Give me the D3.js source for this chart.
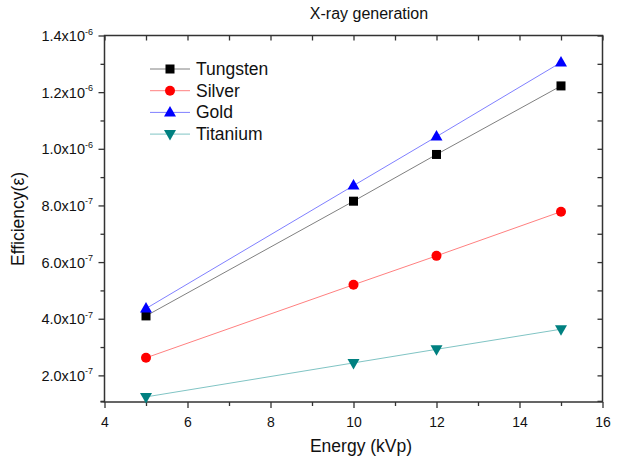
<!DOCTYPE html>
<html><head><meta charset="utf-8">
<script src="https://cdn.jsdelivr.net/npm/d3@7"></script>
<style>body{margin:0;background:#fff;} svg{display:block;} text{font-family:"Liberation Sans",Arial,sans-serif;}</style>
</head><body>
<svg id="c" width="621" height="462"></svg>
<script>
const energy = [5, 10, 12, 15];
const tungsten = [4.1e-7, 8.15e-7, 9.8e-7, 1.222e-6];
const silver = [2.62e-7, 5.2e-7, 6.22e-7, 7.78e-7];
const gold = [4.36e-7, 8.7e-7, 1.043e-6, 1.305e-6];
const titanium = [1.24e-7, 2.44e-7, 2.92e-7, 3.63e-7];
const seriesNames = ["Tungsten", "Silver", "Gold", "Titanium"];
const xTicks = [4, 6, 8, 10, 12, 14, 16];
const yTickMant = ["2.0", "4.0", "6.0", "8.0", "1.0", "1.2", "1.4"];
const yTickExp = ["-7", "-7", "-7", "-7", "-6", "-6", "-6"];
const yTicks = [2e-7, 4e-7, 6e-7, 8e-7, 1.0e-6, 1.2e-6, 1.4e-6];

const styles = [
  {line:"#808080", fill:"#000000", shape:"square"},
  {line:"#ff8080", fill:"#ff0000", shape:"circle"},
  {line:"#8080ff", fill:"#0000ff", shape:"up"},
  {line:"#80c4c4", fill:"#008080", shape:"down"}
];
const allSeries = [tungsten, silver, gold, titanium];

const svg = d3.select("#c");
const L = 104.5, R = 602.5, T = 35.5, B = 402;
const x = d3.scaleLinear().domain([4, 16]).range([L, R]);
const y = d3.scaleLinear().domain([1.06e-7, 1.4e-6]).range([B, T]);

svg.append("rect").attr("x", L).attr("y", T).attr("width", R - L).attr("height", B - T)
  .attr("fill", "none").attr("stroke", "#333").attr("stroke-width", 1.5);

const xMinor = d3.range(5, 16, 2);
const yMinor = [1.1e-7, 3e-7, 5e-7, 7e-7, 9e-7, 1.1e-6, 1.3e-6];
const style = g => { g.select(".domain").remove(); g.selectAll("line").attr("stroke", "#333").attr("stroke-width", 1.3); };

const gx = svg.append("g").attr("transform", `translate(0,${B})`)
  .call(d3.axisBottom(x).tickValues(xTicks).tickSize(6).tickSizeOuter(0).tickFormat(d3.format("d")))
  .call(style);
gx.selectAll("text").attr("font-size", 14).attr("fill", "#111").attr("dy", "1.15em");
svg.append("g").attr("transform", `translate(0,${B})`)
  .call(d3.axisBottom(x).tickValues(xMinor).tickSize(4).tickFormat("")).call(style);
svg.append("g").attr("transform", `translate(0,${T})`)
  .call(d3.axisBottom(x).tickValues(xTicks.concat(xMinor)).tickSize(5).tickFormat("")).call(style);

svg.append("g").attr("transform", `translate(${L},0)`)
  .call(d3.axisLeft(y).tickValues(yTicks).tickSize(6).tickFormat("")).call(style);
svg.append("g").attr("transform", `translate(${L},0)`)
  .call(d3.axisLeft(y).tickValues(yMinor).tickSize(4).tickFormat("")).call(style);
svg.append("line").attr("x1", L - 4).attr("x2", L).attr("y1", B).attr("y2", B).attr("stroke", "#333").attr("stroke-width", 1.3);
yTicks.forEach((v, i) => {
  const t = svg.append("text").attr("x", 93).attr("y", y(v) + 5.5).attr("text-anchor", "end")
    .attr("font-size", 14.5).attr("fill", "#111");
  t.append("tspan").text(yTickMant[i] + "x10");
  t.append("tspan").attr("dy", -6.5).attr("font-size", 9).text(yTickExp[i]);
});
svg.append("g").attr("transform", `translate(${R},0)`)
  .call(d3.axisRight(y).tickValues(yTicks.concat(yMinor)).tickSize(-5).tickFormat("")).call(style);

const lineGen = d3.line().x((d, i) => x(energy[i])).y(d => y(d));
function marker(g, shape, cx, cy, fill) {
  if (shape === "square") g.append("rect").attr("x", cx - 4.5).attr("y", cy - 4.5).attr("width", 9).attr("height", 9).attr("fill", fill);
  else if (shape === "circle") g.append("circle").attr("cx", cx).attr("cy", cy).attr("r", 5).attr("fill", fill);
  else if (shape === "up") g.append("path").attr("d", `M${cx},${cy - 6.5}L${cx + 6},${cy + 4}L${cx - 6},${cy + 4}Z`).attr("fill", fill);
  else g.append("path").attr("d", `M${cx},${cy + 6.5}L${cx + 6},${cy - 4}L${cx - 6},${cy - 4}Z`).attr("fill", fill);
}
allSeries.forEach((s, k) => {
  svg.append("path").datum(s).attr("d", lineGen).attr("fill", "none")
    .attr("stroke", styles[k].line).attr("stroke-width", 1);
});
allSeries.forEach((s, k) => {
  const g = svg.append("g");
  s.forEach((v, i) => marker(g, styles[k].shape, x(energy[i]), y(v), styles[k].fill));
});

seriesNames.forEach((n, k) => {
  const ly = 69 + k * 21.7;
  svg.append("line").attr("x1", 150).attr("x2", 190).attr("y1", ly).attr("y2", ly)
    .attr("stroke", styles[k].line).attr("stroke-width", 1);
  marker(svg, styles[k].shape, 170, ly, styles[k].fill);
  svg.append("text").attr("x", 196).attr("y", ly + 6).attr("font-size", 17.5).attr("fill", "#111").text(n);
});

svg.append("text").attr("x", 369).attr("y", 19).attr("text-anchor", "middle").attr("font-size", 16).attr("fill", "#111").text("X-ray generation");
svg.append("text").attr("x", 361).attr("y", 452).attr("text-anchor", "middle").attr("font-size", 17.5).attr("fill", "#111").text("Energy (kVp)");
svg.append("text").attr("transform", "translate(24,219) rotate(-90)").attr("text-anchor", "middle").attr("font-size", 17.5).attr("fill", "#111").text("Efficiency(ε)");
</script>
</body></html>
